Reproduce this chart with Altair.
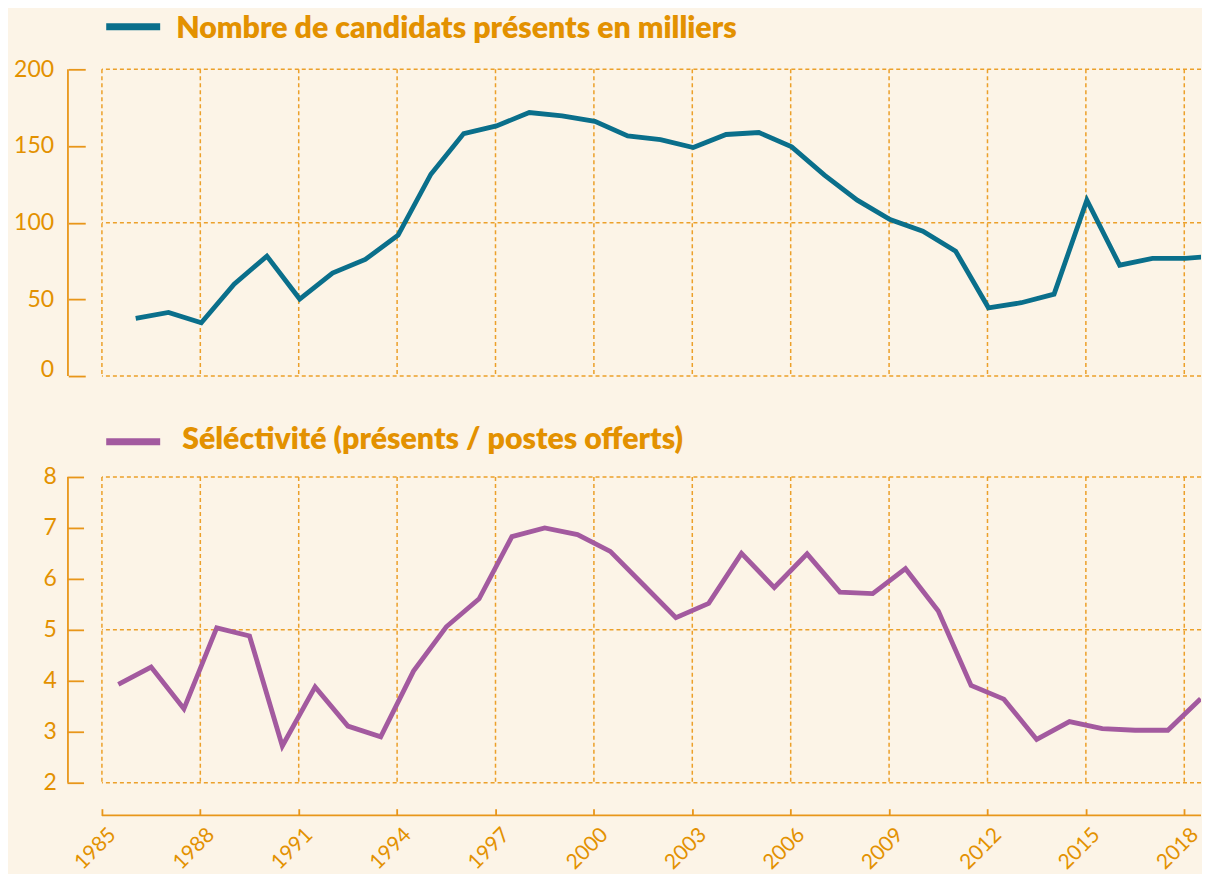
import altair as alt
import pandas as pd

# ---------------- data ----------------
years_top = list(range(1986, 2020))
candidats = [37.6, 41.5, 34.7, 59.9, 78.2, 50.2, 67.1, 76.0, 91.9, 131.6,
             158.1, 163.1, 171.8, 169.6, 166.1, 156.6, 154.2, 149.0, 157.5, 158.8,
             149.4, 131.0, 114.7, 102.1, 94.5, 81.4, 44.5, 47.8, 53.4, 114.7,
             72.3, 76.7, 76.7, 78.5]

years_bottom = list(range(1985, 2019))
selectivite = [3.93, 4.27, 3.45, 5.04, 4.88, 2.72, 3.88, 3.11, 2.90, 4.19,
               5.06, 5.61, 6.83, 7.00, 6.87, 6.54, 5.89, 5.24, 5.52, 6.50,
               5.83, 6.49, 5.74, 5.71, 6.20, 5.37, 3.91, 3.64, 2.85, 3.20,
               3.06, 3.03, 3.03, 3.65]

axis_years = list(range(1985, 2020))
label_years = list(range(1985, 2019, 3))
top_ticks = [0, 50, 100, 150, 200]
top_grid = [0, 100, 200]
bottom_ticks = [2, 3, 4, 5, 6, 7, 8]
bottom_grid = [2, 5, 8]

title_top = "Nombre de candidats présents en milliers"
title_bottom = "Séléctivité (présents / postes offerts)"

# ---------------- style ----------------
BG = "#fcf4e7"
ORANGE = "#e39100"
AXIS = "#e8961a"
GRID = "#eca02a"
TEAL = "#0a6f8b"
PURPLE = "#a35a9f"
FONT = "Lato"

TOP_SHIFT = 0.03
BOTTOM_SHIFT = 0.5
XMIN, XMAX = 1985, 2018.51
W = 1100
H_TOP = 307
H_BOT = 306

df_top = pd.DataFrame({"x": [y + TOP_SHIFT for y in years_top], "v": candidats})
df_bot = pd.DataFrame({"x": [y + BOTTOM_SHIFT for y in years_bottom], "v": selectivite})
df_gx = pd.DataFrame({"x": label_years})

xscale = alt.Scale(domain=[XMIN, XMAX], nice=False, zero=False)


def panel(df, ticks, grid, color, title, height, y_axis, title_x, title_y, sw_y, x_axis):
    yscale = alt.Scale(domain=[min(ticks), max(ticks)], nice=False, zero=False)

    def X(field):
        if x_axis is None:
            return alt.X(field, scale=xscale, axis=None)
        return alt.X(field, scale=xscale)

    gridx = alt.Chart(df_gx).mark_rule(color=GRID, strokeWidth=1.5, strokeDash=[4, 3]).encode(
        x=X("x:Q")
    )
    gridy = alt.Chart(pd.DataFrame({"v": grid})).mark_rule(
        color=GRID, strokeWidth=1.5, strokeDash=[4, 3]
    ).encode(y=alt.Y("v:Q", scale=yscale))
    yline = alt.Chart(pd.DataFrame({"lo": [min(ticks)], "hi": [max(ticks)]})).mark_rule(
        color=AXIS, strokeWidth=1.8
    ).encode(x=alt.value(-34), y=alt.Y("lo:Q", scale=yscale), y2="hi:Q")
    line = alt.Chart(df).mark_line(color=color, strokeWidth=4.8, clip=True).encode(
        x=alt.X("x:Q", scale=xscale, axis=x_axis),
        y=alt.Y("v:Q", scale=yscale, axis=y_axis),
    )
    lab = pd.DataFrame({"t": [title]})
    swatch = alt.Chart(lab).mark_rule(color=color, strokeWidth=7).encode(
        x=alt.value(4.3), x2=alt.value(58.3), y=alt.value(sw_y)
    )
    txt = alt.Chart(lab).mark_text(
        align="left", baseline="alphabetic", font=FONT, fontSize=30.3, fontWeight=800, color=ORANGE
    ).encode(x=alt.value(title_x), y=alt.value(title_y), text="t:N")
    layers = [gridx, gridy, yline, line, swatch, txt]
    if x_axis is not None:
        xline = alt.Chart(pd.DataFrame({"a": [XMIN], "b": [XMAX]})).mark_rule(
            color=AXIS, strokeWidth=1.8
        ).encode(x=X("a:Q"), x2="b:Q", y=alt.value(height + 32.7))
        minor = alt.Chart(pd.DataFrame({"yr": axis_years})).mark_rule(
            color=AXIS, strokeWidth=1.8, clip=True
        ).encode(x=X("yr:Q"), y=alt.value(height + 26), y2=alt.value(height + 32.7))
        layers += [xline, minor]
    return alt.layer(*layers).properties(width=W, height=height)


top_axis = alt.Axis(
    values=top_ticks, offset=16.7, tickSize=17, domain=False, grid=False,
    labelPadding=14.7, labelFontSize=23, labelFont=FONT, labelColor=ORANGE,
    tickColor=AXIS, tickWidth=1.8, title=None,
    labelBaseline={"condition": {"test": "datum.value === 0", "value": "alphabetic"}, "value": "middle"},
)
bot_axis = alt.Axis(
    values=bottom_ticks, offset=18.4, tickSize=16.6, domain=False, grid=False,
    labelPadding=10.7, labelFontSize=23, labelFont=FONT, labelColor=ORANGE,
    tickColor=AXIS, tickWidth=1.8, title=None, labelBaseline="middle",
)
x_axis = alt.Axis(
    values=label_years, offset=26, tickSize=6.7, domain=False, grid=False,
    labelAngle=-45, labelAlign="right", labelBaseline="middle", labelOffset=10.5,
    labelPadding=16, labelOverlap=False, labelFlush=False, labelBound=False,
    format="d", labelFontSize=21, labelFont=FONT, labelColor=ORANGE,
    tickColor=AXIS, tickWidth=1.8, title=None,
)

top = panel(df_top, top_ticks, top_grid, TEAL, title_top, H_TOP, top_axis, 74.3, -31.7, -42.7, None)
bottom = panel(df_bot, bottom_ticks, bottom_grid, PURPLE, title_bottom, H_BOT, bot_axis, 80.3, -27.5, -35.2, x_axis)

chart = alt.vconcat(top, bottom, spacing=101, bounds="flush").properties(
    background=BG, padding={"left": 5, "top": 5, "right": 0, "bottom": 0}
).configure_view(stroke=None)

chart.save("out.html", embed_options={"renderer": "svg", "actions": False})
